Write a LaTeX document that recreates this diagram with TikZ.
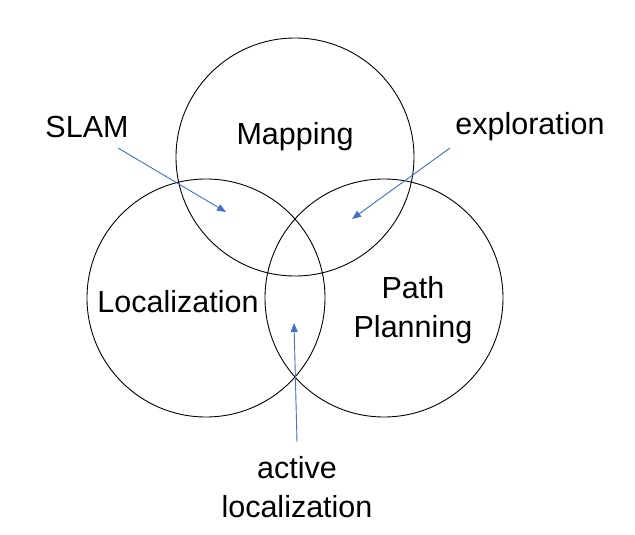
\documentclass[tikz,border=0pt]{standalone}
\usepackage{fontspec}
\setmainfont{Liberation Sans}
\usetikzlibrary{arrows.meta}
\definecolor{arrowblue}{HTML}{4472C4}
\begin{document}
\begin{tikzpicture}[x=1pt, y=-1pt,
    ring/.style={circle, draw, line width=0.9pt, minimum size=238pt, inner sep=0pt},
    lbl/.style={font=\fontsize{30.5}{38.5}\selectfont, align=center, inner sep=0pt},
    pointer/.style={-{Triangle[length=9pt, width=7pt]}, draw=arrowblue, fill=arrowblue, line width=0.9pt}
]
    \useasboundingbox (0,0) rectangle (635,535);

    \node[ring] (mapring) at (295,157) {};
    \node[ring] (locring) at (206,298) {};
    \node[ring] (planring) at (384,298) {};

    \node[lbl] (mapping) at (295,137) {Mapping};
    \node[lbl] (localization) at (178,302) {Localization};
    \node[lbl] (planning) at (413,310) {Path\\Planning};

    \node[lbl] (slam) at (87,127) {SLAM};
    \node[lbl] (explore) at (530,127) {exploration};
    \node[lbl] (active) at (297,487) {active\\localization};

    \coordinate (slamstart) at (118,148);
    \coordinate (slamend) at (226,212);
    \coordinate (explstart) at (450,148);
    \coordinate (explend) at (352,219);
    \coordinate (activestart) at (297,442);
    \coordinate (activeend) at (294,323);

    \draw[pointer] (slamstart) -- (slamend);
    \draw[pointer] (explstart) -- (explend);
    \draw[pointer] (activestart) -- (activeend);
\end{tikzpicture}
\end{document}
